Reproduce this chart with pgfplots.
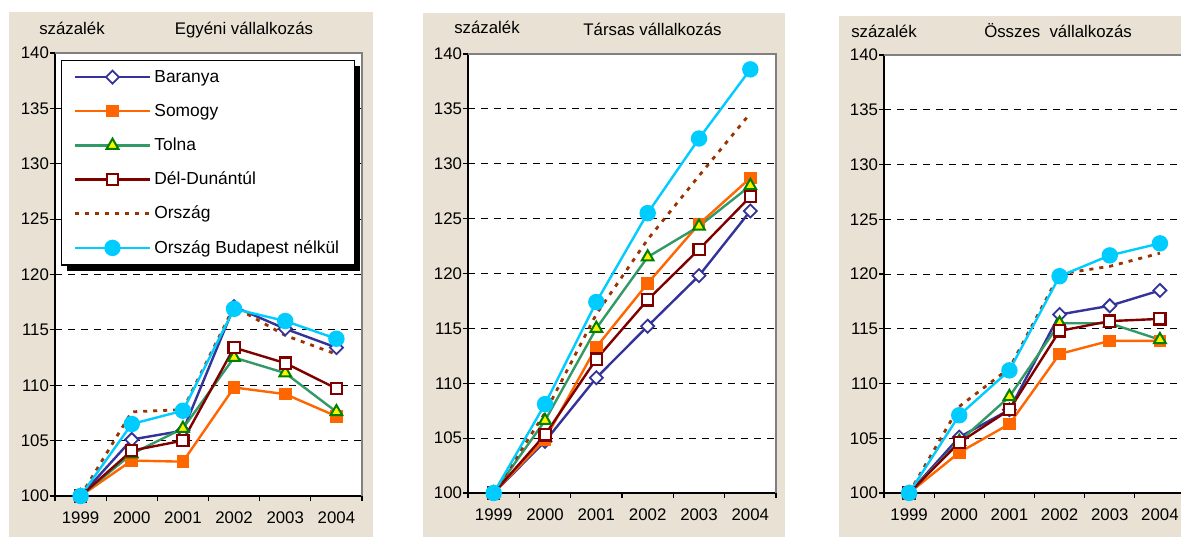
\documentclass[border=0pt]{standalone}
\usepackage{pgfplots}
\usepackage{pgfplotstable}
\pgfplotsset{compat=1.18}
\usepackage{fontspec}
\setmainfont{Liberation Sans}
\usetikzlibrary{shadows}

\makeatletter
\tikzset{no preactions/.code={\let\tikz@preactions\pgfutil@empty}}
\makeatother

\definecolor{cbar}{HTML}{333399}
\definecolor{csom}{HTML}{FF6600}
\definecolor{ctol}{HTML}{339966}
\definecolor{ctold}{HTML}{008000}
\definecolor{cdel}{HTML}{800000}
\definecolor{cors}{HTML}{993300}
\definecolor{cobn}{HTML}{00CCFF}
\definecolor{beige}{RGB}{233,226,212}

% x: 0=1999 ... 5=2004
\pgfplotstableread{
x bar som tol del ors obn
0 100 100 100 100 100 100
1 105.1 103.2 103.8 104.1 107.6 106.5
2 105.9 103.1 106.1 105.0 107.8 107.7
3 117.1 109.8 112.5 113.4 117.1 116.9
4 115.1 109.2 111.1 112.0 114.5 115.8
5 113.4 107.2 107.6 109.7 112.8 114.2
}\tabA
\pgfplotstableread{
x bar som tol del ors obn
0 100 100 100 100 100 100
1 104.7 104.9 106.6 105.3 107.3 108.1
2 110.5 113.3 115.0 112.2 116.3 117.4
3 115.2 119.1 121.5 117.6 123.1 125.5
4 119.8 124.5 124.3 122.2 128.9 132.3
5 125.7 128.7 128.0 127.0 134.6 138.6
}\tabB
\pgfplotstableread{
x bar som tol del ors obn
0 100 100 100 100 100 100
1 105.1 103.7 104.7 104.6 107.9 107.1
2 107.6 106.3 108.8 107.6 111.4 111.2
3 116.3 112.7 115.5 114.8 120.0 119.8
4 117.1 113.9 115.5 115.7 120.7 121.7
5 118.5 113.9 114.0 115.9 121.9 122.8
}\tabC

\pgfplotsset{
 panel/.style={
  scale only axis, anchor=south west,
  xmin=-0.5, xmax=5.5, ymin=100, ymax=140,
  ytick={100,105,...,140}, xtick={0,...,5},
  xticklabels={1999,2000,2001,2002,2003,2004},
  minor xtick={-0.5,0.5,...,5.5},
  tick align=outside, tick pos=left,
  major tick length=2.5pt, minor tick length=2.5pt,
  major x tick style={draw=none},
  tick style={black, line width=0.6pt},
  axis line style={black, line width=0.9pt},
  ymajorgrids, grid style={black, line width=0.5pt, dash pattern=on 3.5pt off 3pt},
  axis background/.style={fill=white},
  ticklabel style={font=\fontsize{8.4}{10}\selectfont},
  /pgf/number format/assume math mode=true,
  yticklabel style={xshift=3pt},
  xticklabel style={yshift=-2pt},
  clip=false,
  legend image code/.code={\draw[no preactions, mark repeat=2, mark phase=2, #1] plot coordinates {(0pt,0pt) (18.75pt,0pt) (37.5pt,0pt)};},
 },
 sBar/.style={color=cbar, line width=1.2pt, mark=square*, mark size=2.3pt, mark options={rotate=45, fill=white, draw=cbar, solid, line width=0.9pt}},
 sSom/.style={color=csom, line width=1.2pt, mark=square*, mark size=2.9pt, mark options={solid, line width=0.5pt}},
 sTol/.style={color=ctol, line width=1.2pt, mark=triangle*, mark size=3.4pt, mark options={solid, fill=yellow, draw=ctold, line width=1pt}},
 sDel/.style={color=cdel, line width=1.2pt, mark=square*, mark size=2.8pt, mark options={solid, fill=white, draw=cdel, line width=1.1pt}},
 sOrs/.style={color=cors, line width=1.4pt, dash pattern=on 2pt off 3pt, mark=none},
 sObn/.style={color=cobn, line width=1.2pt, mark=*, mark size=3.5pt, mark options={solid}},
}

\newcommand\grayborder{\draw[gray, line width=1.4pt] (rel axis cs:0,1) -- (rel axis cs:1,1) -- (rel axis cs:1,0);}
\newcommand\tfont{\fontsize{8.4}{10}\selectfont}

\begin{document}
\begin{tikzpicture}
\fill[beige] (4.5pt,0pt) rectangle (186.5pt,262.5pt);
\fill[beige] (211.5pt,0pt) rectangle (392.5pt,262pt);
\fill[beige] (419.5pt,0pt) rectangle (595pt,260.5pt);

\node[anchor=base, font=\tfont] at (36pt,251.25pt) {százalék};
\node[anchor=base, font=\tfont] at (122pt,251.25pt) {Egyéni vállalkozás};
\node[anchor=base, font=\tfont] at (243.5pt,251.5pt) {százalék};
\node[anchor=base, font=\tfont] at (326.25pt,251pt) {Társas vállalkozás};
\node[anchor=base, font=\tfont] at (442pt,250pt) {százalék};
\node[anchor=base, font=\tfont] at (529pt,250pt) {Összes~~vállalkozás};

\begin{axis}[panel, at={(27.5pt,20.5pt)}, width=153.5pt, height=221.5pt,
  legend style={at={(0,1)}, anchor=north west, xshift=3pt, yshift=-3.5pt,
    draw=black, line width=0.6pt, fill=white,
    drop shadow={shadow xshift=2.8pt, shadow yshift=-2.8pt, fill=black, opacity=1},
    font=\fontsize{8.7}{10}\selectfont, inner xsep=6pt, inner ysep=5pt, row sep=10.5pt,
    cells={anchor=west},
    nodes={inner ysep=0pt, text height=6pt, text depth=0.5pt, inner xsep=1.5pt}}]
\grayborder
\addplot[sBar] table[x=x,y=bar] {\tabA};
\addplot[sSom] table[x=x,y=som] {\tabA};
\addplot[sTol] table[x=x,y=tol] {\tabA};
\addplot[sDel] table[x=x,y=del] {\tabA};
\addplot[sOrs] table[x=x,y=ors] {\tabA};
\addplot[sObn] table[x=x,y=obn] {\tabA};
\legend{Baranya,Somogy,Tolna,Dél-Dunántúl,Ország,Ország Budapest nélkül}
\end{axis}

\begin{axis}[panel, at={(234pt,22pt)}, width=154pt, height=219.5pt]
\grayborder
\addplot[sBar] table[x=x,y=bar] {\tabB};
\addplot[sSom] table[x=x,y=som] {\tabB};
\addplot[sTol] table[x=x,y=tol] {\tabB};
\addplot[sDel] table[x=x,y=del] {\tabB};
\addplot[sOrs] table[x=x,y=ors] {\tabB};
\addplot[sObn] table[x=x,y=obn] {\tabB};
\end{axis}

\begin{axis}[panel, at={(442pt,22pt)}, width=150.5pt, height=219pt]
\grayborder
\addplot[sBar] table[x=x,y=bar] {\tabC};
\addplot[sSom] table[x=x,y=som] {\tabC};
\addplot[sTol] table[x=x,y=tol] {\tabC};
\addplot[sDel] table[x=x,y=del] {\tabC};
\addplot[sOrs] table[x=x,y=ors] {\tabC};
\addplot[sObn] table[x=x,y=obn] {\tabC};
\end{axis}

\pgfresetboundingbox
\path[use as bounding box] (0pt,0pt) rectangle (590.5pt,268.5pt);
\end{tikzpicture}
\end{document}
